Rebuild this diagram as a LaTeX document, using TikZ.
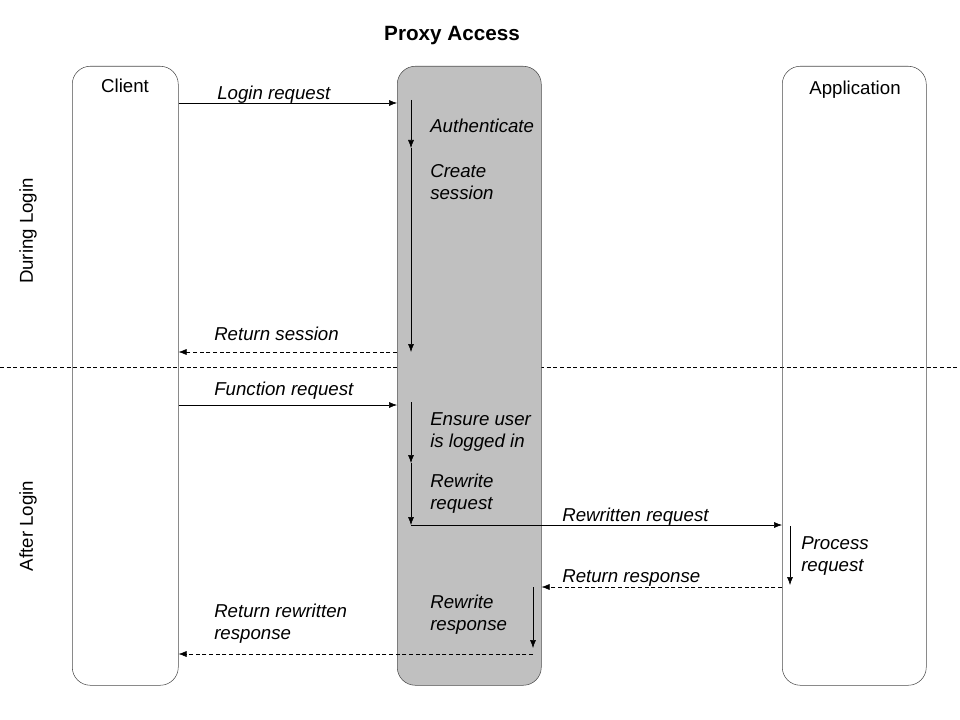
\documentclass[tikz,border=0pt]{standalone}
\usepackage{fontspec}
\setmainfont{Liberation Sans}
\usetikzlibrary{arrows.meta}
\definecolor{proxygray}{HTML}{C0C0C0}
\begin{document}
\begin{tikzpicture}[x=0.75pt,y=-0.75pt,>={Latex[length=6pt,width=4.5pt]},
  lane/.style={draw=black!70,rounded corners=13.5pt,inner sep=0pt,anchor=north west,minimum height=464.25pt},
  step label/.style={font=\fontsize{14pt}{16.5pt}\selectfont\itshape,anchor=base west,inner sep=0pt,align=left},
  head label/.style={font=\fontsize{14pt}{16.5pt}\selectfont,anchor=base,inner sep=0pt},
  phase label/.style={font=\fontsize{14pt}{16.5pt}\selectfont,rotate=90,inner sep=0pt},
  back/.style={dash pattern=on 3pt off 2pt}]

  \useasboundingbox (0,0) rectangle (960,720);

  \node[font=\fontsize{15.5pt}{18pt}\selectfont\bfseries,anchor=base] (title) at (452,41) {Proxy Access};

  \draw[back] (0,367) -- (960,367);

  \node[lane,minimum width=79.5pt] (client) at (72,66) {};
  \node[lane,fill=proxygray,minimum width=108pt] (proxy) at (397,66) {};
  \node[lane,minimum width=108pt] (app) at (782,66) {};

  \node[head label] (clientname) at (125,93) {Client};
  \node[head label] (appname) at (855,95) {Application};

  \node[phase label] (during) at (28,231) {During Login};
  \node[phase label] (after) at (28,526) {After Login};

  % during login
  \coordinate (a1) at (411,100);
  \coordinate (a2) at (411,148);
  \coordinate (a3) at (411,352);
  \draw[->] (client.east |- 0,103) -- (proxy.west |- 0,103);
  \node[step label] (loginreq) at (217,100) {Login request};
  \draw[->] (a1) -- (a2);
  \draw[->] (a2) -- (a3);
  \node[step label] (auth) at (430,133) {Authenticate};
  \node[step label] (create) at (430,200) {Create\\session};
  \draw[back,->] (proxy.west |- a3) -- (client.east |- a3);
  \node[step label] (retsess) at (214,340) {Return session};

  % after login
  \coordinate (b1) at (411,402);
  \coordinate (b2) at (411,463);
  \coordinate (b3) at (411,525);
  \coordinate (c1) at (790,526);
  \coordinate (c2) at (790,585);
  \coordinate (d1) at (533,587);
  \coordinate (d2) at (533,648);
  \draw[->] (client.east |- 0,405) -- (proxy.west |- 0,405);
  \node[step label] (funcreq) at (214,395) {Function request};
  \draw[->] (b1) -- (b2);
  \draw[->] (b2) -- (b3);
  \node[step label] (ensure) at (430,447) {Ensure user\\is logged in};
  \node[step label] (rewreq) at (430,509) {Rewrite\\request};
  \draw[->] (b3) -- (app.west |- b3);
  \node[step label] (rewrittenreq) at (562,521) {Rewritten request};
  \draw[->] (c1) -- (c2);
  \node[step label] (process) at (801,571) {Process\\request};
  \draw[back,->] (app.west |- 0,587) -- (proxy.east |- 0,587);
  \node[step label] (retresp) at (562,582) {Return response};
  \draw[->] (d1) -- (d2);
  \node[step label] (rewresp) at (430,630) {Rewrite\\response};
  \draw[back,->] (d2 |- 0,654) -- (client.east |- 0,654);
  \node[step label] (retrewresp) at (214,639) {Return rewritten\\response};
\end{tikzpicture}
\end{document}
